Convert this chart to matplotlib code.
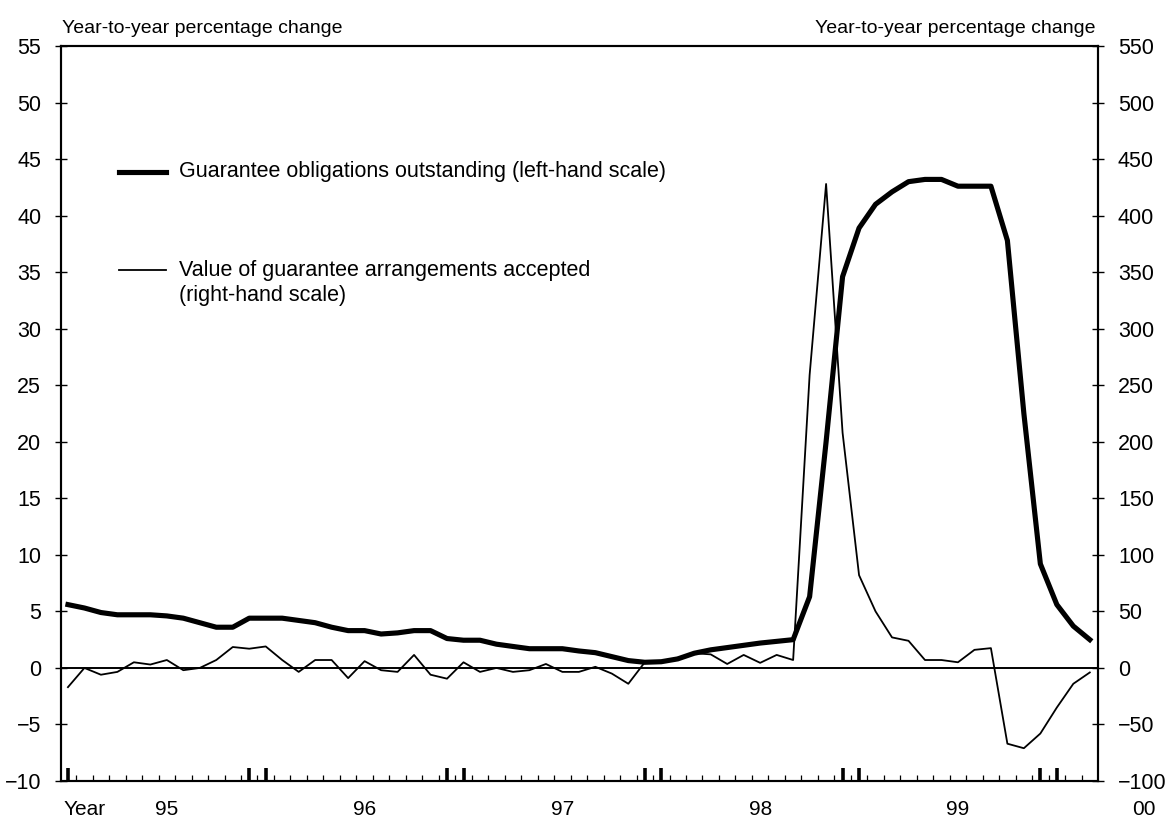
import numpy as np
import matplotlib.pyplot as plt
from matplotlib.transforms import blended_transform_factory

plt.rcParams['font.family'] = ['Liberation Sans', 'DejaVu Sans']

# monthly observations, index 0 = first month shown
months = np.arange(63)

# Guarantee obligations outstanding, y/y % change (left-hand scale)
guarantees = [5.6, 5.3, 4.9, 4.7, 4.7, 4.7, 4.6, 4.4, 4.0, 3.6,
              3.6, 4.4, 4.4, 4.4, 4.2, 4.0, 3.6, 3.3, 3.3, 3.0,
              3.1, 3.3, 3.3, 2.6, 2.45, 2.45, 2.1, 1.9, 1.7, 1.7,
              1.7, 1.5, 1.35, 1.0, 0.65, 0.5, 0.55, 0.8, 1.3, 1.6,
              1.8, 2.0, 2.2, 2.35, 2.5, 6.3, 20.0, 34.6, 38.9, 41.0,
              42.1, 43.0, 43.2, 43.2, 42.6, 42.6, 42.6, 37.8, 22.5, 9.2,
              5.6, 3.7, 2.5]

# Value of guarantee arrangements accepted, y/y % change (right-hand scale)
accepted = [-17, 0, -6, -3.5, 5, 3, 7, -2, 0, 7,
            18.5, 17, 19, 7, -3.5, 7, 7, -9, 6, -2,
            -3.5, 11.5, -6, -9.5, 5, -3.5, 0, -3.5, -2, 3.5,
            -3.5, -3.5, 1, -5, -14, 5, 5.5, 9, 13, 12,
            3.5, 11.5, 4.5, 11.5, 7, 259, 428, 208, 82, 50,
            27, 24, 7, 7, 5, 16, 17.5, -67, -71, -58,
            -35, -14, -4]

bold_ticks = [0, 11, 12, 23, 24, 35, 36, 47, 48, 59, 60]
year_labels = ['95', '96', '97', '98', '99', '00']
year_pos = [6, 18, 30, 42, 54, 65.3]

fs = 15.5

fig = plt.figure(figsize=(11.69, 8.21), dpi=100)
ax = fig.add_axes([0.0522, 0.0487, 0.8871, 0.8953])
ax2 = ax.twinx()

ax.axhline(0, color='black', lw=1.4, zorder=1)
ax.plot(months, guarantees, color='black', lw=3.7, solid_joinstyle='round', zorder=3)
ax2.plot(months, accepted, color='black', lw=1.3)

ax.set_xlim(-0.42, 62.5)
ax.set_ylim(-10, 55)
ax.set_yticks(range(-10, 60, 5))
ax2.set_ylim(-100, 550)
ax2.set_yticks(range(-100, 600, 50))

for a in (ax, ax2):
    a.tick_params(axis='y', direction='inout', length=8.6, width=1, pad=10, labelsize=fs)
    for s in a.spines.values():
        s.set_linewidth(1.5)

ax.set_xticks(bold_ticks)
ax.set_xticklabels([])
ax.set_xticks(months[:-1] + 0.5, minor=True)
ax.tick_params(axis='x', which='major', direction='in', length=9.6, width=2.6)
ax.tick_params(axis='x', which='minor', direction='in', length=4.3, width=0.9)

trans = blended_transform_factory(ax.transData, ax.transAxes)
ax.text(1.0, -0.039, 'Year', transform=trans, ha='center', va='center', fontsize=15)
for lab, pos in zip(year_labels, year_pos):
    ax.text(pos, -0.039, lab, transform=trans, ha='center', va='center', fontsize=15)

# legend drawn by hand
ax.plot([0.0559, 0.101], [0.8286, 0.8286], transform=ax.transAxes, color='black', lw=3.7)
ax.text(0.1137, 0.8286, 'Guarantee obligations outstanding (left-hand scale)',
        transform=ax.transAxes, ha='left', va='center', fontsize=fs)
ax.plot([0.0559, 0.101], [0.695, 0.695], transform=ax.transAxes, color='black', lw=1.3)
ax.text(0.1137, 0.709, 'Value of guarantee arrangements accepted\n(right-hand scale)',
        transform=ax.transAxes, ha='left', va='top', fontsize=fs, linespacing=1.26)

fig.text(0.053, 0.965, 'Year-to-year percentage change', ha='left', va='center', fontsize=14)
fig.text(0.9367, 0.965, 'Year-to-year percentage change', ha='right', va='center', fontsize=14)

fig.savefig('out.png', dpi=100)
